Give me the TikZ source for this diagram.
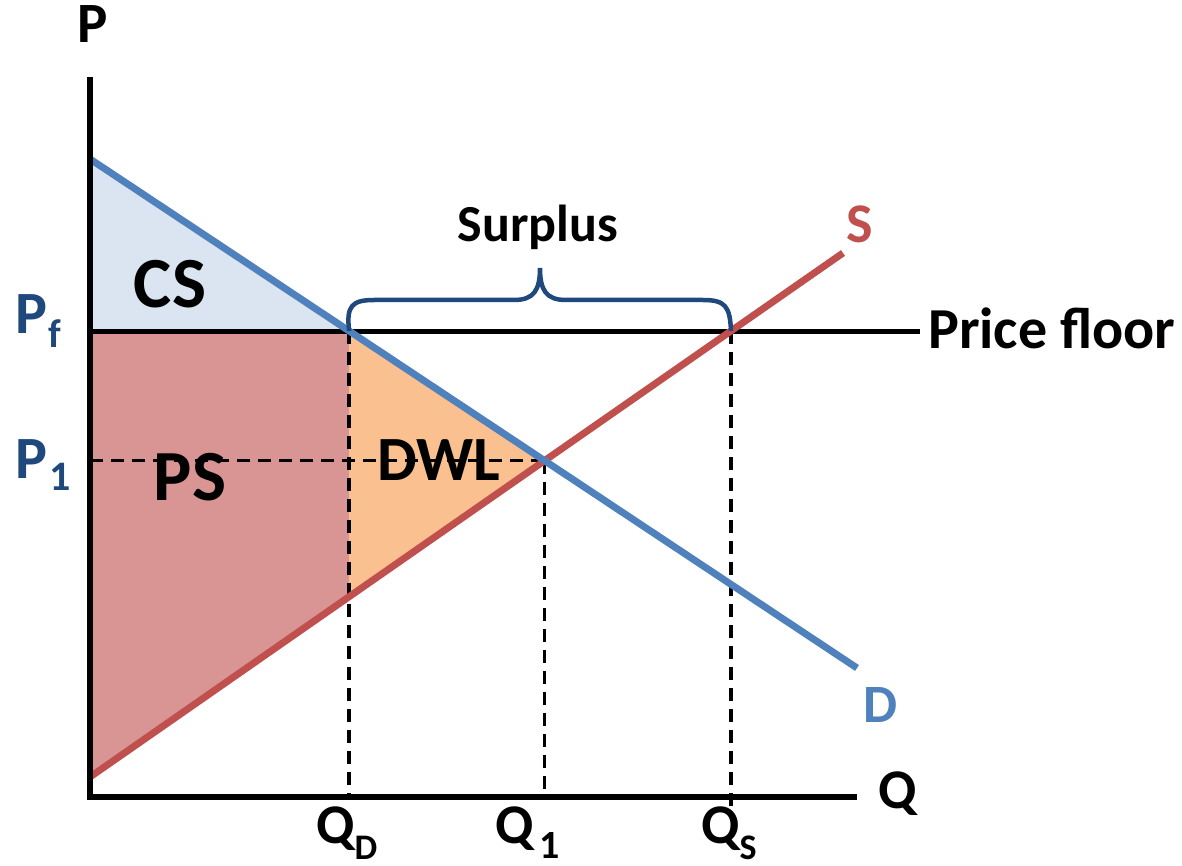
\documentclass[tikz,border=0pt]{standalone}
\usepackage{fontspec}
\setmainfont{Carlito}
\usetikzlibrary{calc}
\definecolor{csfill}{HTML}{DBE5F1}
\definecolor{psfill}{HTML}{D99594}
\definecolor{dwlfill}{HTML}{FAC090}
\definecolor{dblue}{HTML}{4F81BD}
\definecolor{sred}{HTML}{C0504D}
\definecolor{navy}{HTML}{1F497D}
\newcommand{\fsz}[1]{\fontsize{#1}{#1}\selectfont}
\begin{document}
\begin{tikzpicture}[x=1pt,y=-1pt,
  lbl/.style={inner sep=0pt, anchor=base, font=\bfseries},
  axisline/.style={line width=6pt, black},
  floorline/.style={line width=5pt, black},
  guide/.style={line width=3.5pt, black, dash pattern=on 13pt off 8pt},
  demand/.style={line width=7pt, dblue},
  supply/.style={line width=7pt, sred},
  bracestyle/.style={line width=4.5pt, navy}]
\useasboundingbox (0,0) rectangle (1182,866);
% key points
\coordinate (O) at (90,797);
\coordinate (Ytop) at (90,77);
\coordinate (Xend) at (857,797);
\coordinate (D0) at (90,159);
\coordinate (D1) at (857,668);
\coordinate (S0) at (90,777);
\coordinate (S1) at (843,253);
\coordinate (F0) at (90,331);
\coordinate (F1) at (920,331);
\coordinate (E) at (intersection of D0--D1 and S0--S1);
\coordinate (QDt) at (intersection of D0--D1 and F0--F1);
\coordinate (QSt) at (intersection of S0--S1 and F0--F1);
\coordinate (QDb) at (QDt |- O);
\coordinate (QSb) at ($(QSt |- O)+(0,9)$);
\coordinate (Q1b) at (E |- O);
\coordinate (P1a) at (E -| O);
\coordinate (QDs) at (intersection of S0--S1 and QDt--QDb);
% fills
\fill[csfill] (D0) -- (QDt) -- (F0) -- cycle;
\fill[psfill] (F0) -- (QDt) -- (QDs) -- (S0) -- cycle;
\fill[dwlfill] (QDt) -- (E) -- (QDs) -- cycle;
% labels in areas
\node[lbl] (cs) at (170,308) {\fsz{72}CS};
\node[lbl] (ps) at (190,500) {\fsz{72}PS};
\node[lbl] (dwl) at (439,480) {\fsz{63}DWL};
% guides
\draw[guide] (P1a) -- (E);
\draw[guide] (E) -- (Q1b);
\draw[guide] (QDt) -- (QDb);
\draw[guide] (QSt) -- (QSb);
% price floor
\draw[floorline] (F0) -- (F1);
% curves
\draw[supply] (S0) -- (S1);
\draw[demand] (D0) -- (D1);
% axes
\draw[axisline] (Ytop) -- (O) -- (Xend);
% brace
\draw[bracestyle] (QDt) .. controls (346,306) and (352,300) .. (374,300) -- (514,300)
  .. controls (534,300) and (540,290) .. (540,268)
  .. controls (540,290) and (546,300) .. (566,300) -- (703,300)
  .. controls (725,300) and (730,306) .. (QSt);
% texts
\node[lbl] (surplus) at (538,242) {\fsz{52}Surplus};
\node[lbl] (plabel) at (93,43) {\fsz{57}P};
\node[lbl] (qlabel) at (898,808) {\fsz{56}Q};
\node[lbl, text=sred] (slabel) at (860,243) {\fsz{56}S};
\node[lbl, text=dblue] (dlabel) at (881,722) {\fsz{54}D};
\node[lbl, anchor=base west] (pfloor) at (928,348) {\fsz{58}Price floor};
\node[lbl, anchor=base west, text=navy] (pf) at (15,333) {\fsz{60}P\kern1pt\raisebox{-14pt}{\fsz{40}f}};
\node[lbl, anchor=base west, text=navy] (p1) at (15,478) {\fsz{60}P\kern2pt\raisebox{-12pt}{\fsz{42}1}};
\node[lbl, anchor=base west] (qd) at (316,843) {\fsz{56}Q\raisebox{-16pt}{\fsz{36}D}};
\node[lbl, anchor=base west] (q1) at (495,843) {\fsz{56}Q\kern6pt\raisebox{-15pt}{\fsz{40}1}};
\node[lbl, anchor=base west] (qs) at (701,843) {\fsz{56}Q\raisebox{-16pt}{\fsz{36}S}};
\end{tikzpicture}
\end{document}
